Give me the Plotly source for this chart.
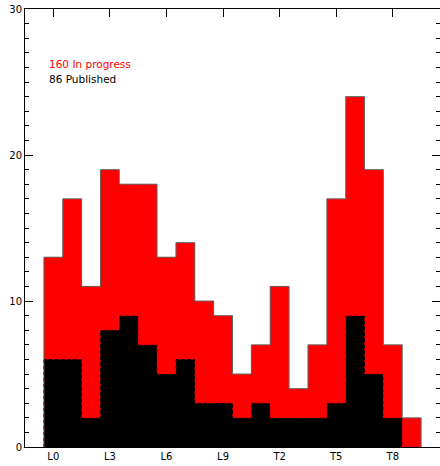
import plotly.graph_objects as go

categories = ["L0", "L1", "L2", "L3", "L4", "L5", "L6", "L7", "L8", "L9",
              "T0", "T1", "T2", "T3", "T4", "T5", "T6", "T7", "T8", "T9"]
total_counts = [13, 17, 11, 19, 18, 18, 13, 14, 10, 9,
                5, 7, 11, 4, 7, 17, 24, 19, 7, 2]
published_counts = [6, 6, 2, 8, 9, 7, 5, 6, 3, 3,
                    2, 3, 2, 2, 2, 3, 9, 5, 2, 0]
tick_labels = ["L0", "L3", "L6", "L9", "T2", "T5", "T8"]
legend_lines = ["160 In progress", "86 Published"]

idx = list(range(len(categories)))
tick_pos = [categories.index(t) for t in tick_labels]


def step(vals):
    xs = [i - 0.5 for i in idx] + [idx[-1] + 0.5]
    ys = list(vals) + [vals[-1]]
    xs = [xs[0]] + xs + [xs[-1]]
    ys = [0] + ys[:-1] + [vals[-1], 0]
    return xs, ys


FONT = "DejaVu Sans"

fig = go.Figure()
fig.add_bar(x=idx, y=total_counts, width=1.0, marker=dict(color="#ff0000", line=dict(width=0)),
            showlegend=False)
fig.add_bar(x=idx, y=published_counts, width=1.0, marker=dict(color="#000000", line=dict(width=0)),
            showlegend=False)
sx, sy = step(total_counts)
fig.add_scatter(x=sx, y=sy, mode="lines", line=dict(color="#666666", width=1, shape="hv"),
                showlegend=False, hoverinfo="skip")
px_, py_ = step(published_counts)
fig.add_scatter(x=px_, y=py_, mode="lines", line=dict(color="#a00000", width=1, shape="hv", dash="dot"),
                showlegend=False, hoverinfo="skip")

fig.add_annotation(x=-0.25, y=26.2, text=legend_lines[0], showarrow=False, xanchor="left",
                   yanchor="middle", xshift=-2, font=dict(color="#ff0000", size=10.5, family=FONT))
fig.add_annotation(x=-0.25, y=25.2, text=legend_lines[1], showarrow=False, xanchor="left",
                   yanchor="middle", xshift=-2, font=dict(color="#000000", size=10.5, family=FONT))

fig.update_layout(
    width=440, height=466,
    margin=dict(l=25, r=0, t=9, b=19),
    barmode="overlay", bargap=0,
    plot_bgcolor="white", paper_bgcolor="white",
    font=dict(family=FONT, size=10, color="black"),
    xaxis=dict(range=[-1.5, 20.5], tickvals=tick_pos, ticktext=tick_labels,
               ticks="inside", ticklen=8, tickcolor="black", showline=True, linecolor="black",
               linewidth=1, mirror="ticks", showgrid=False, zeroline=False, layer="below traces",
               tickfont=dict(size=10)),
    yaxis=dict(range=[0, 30], tickvals=[0, 10, 20, 30], ticks="inside", ticklen=8,
               tickcolor="black", showline=True, linecolor="black", linewidth=1, mirror="ticks",
               showgrid=False, zeroline=False,
               minor=dict(dtick=1, ticks="inside", ticklen=4, tickcolor="black", showgrid=False),
               tickfont=dict(size=10)),
)

fig.write_html("out.html")
